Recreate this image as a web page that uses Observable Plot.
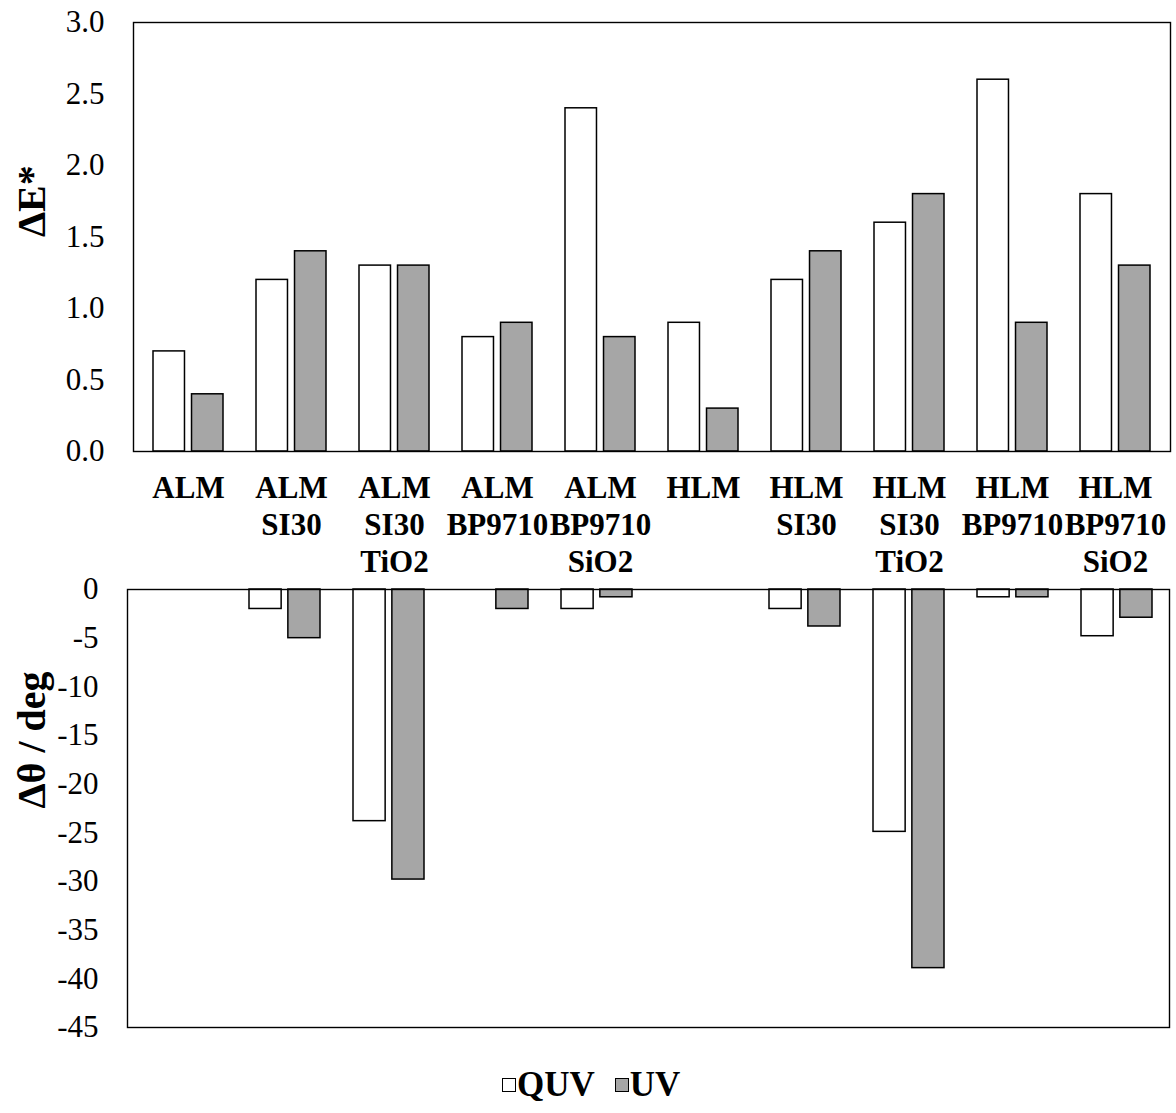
<!DOCTYPE html>
<html>
<head>
<meta charset="utf-8">
<script src="https://cdn.jsdelivr.net/npm/d3@7"></script>
<script src="https://cdn.jsdelivr.net/npm/@observablehq/plot@0.6"></script>
<style>
  html, body { margin: 0; padding: 0; background: #fff; }
  body { width: 1176px; font-family: "Liberation Serif", "Times New Roman", serif; }
  svg { display: block; }
  svg text, svg g[aria-label] { font-family: "Liberation Serif", "Times New Roman", serif !important; }
  #legend { display: flex; align-items: center; justify-content: flex-start; padding-left: 502px; padding-top: 28px; height: 56px; }
  .item { display: flex; align-items: center; font-weight: bold; font-size: 35px; line-height: 40px; color: #000; margin-right: 20px; }
  .sw { width: 12px; height: 12px; border: 1.5px solid #000; margin-right: 1px; }
</style>
</head>
<body>
<div id="top"></div>
<div id="bottom"></div>
<div id="legend"></div>
<script>
const categories = ["ALM", "ALM\nSI30", "ALM\nSI30\nTiO2", "ALM\nBP9710", "ALM\nBP9710\nSiO2",
                    "HLM", "HLM\nSI30", "HLM\nSI30\nTiO2", "HLM\nBP9710", "HLM\nBP9710\nSiO2"];
const series = ["QUV", "UV"];
const seriesColors = ["#ffffff", "#a6a6a6"];
const quvDeltaE = [0.7, 1.2, 1.3, 0.8, 2.4, 0.9, 1.2, 1.6, 2.6, 1.8];
const uvDeltaE  = [0.4, 1.4, 1.3, 0.9, 0.8, 0.3, 1.4, 1.8, 0.9, 1.3];
const quvDeltaTheta = [0, -2, -23.8, 0, -2, 0, -2, -24.9, -0.8, -4.8];
const uvDeltaTheta  = [0, -5, -29.8, -2, -0.8, 0, -3.8, -38.9, -0.8, -2.9];
const topTicks = [0, 0.5, 1.0, 1.5, 2.0, 2.5, 3.0];
const bottomTicks = [0, -5, -10, -15, -20, -25, -30, -35, -40, -45];
const topLabel = "ΔE*";
const bottomLabel = "Δθ / deg";

const font = "'Liberation Serif', 'Times New Roman', serif";

function tidy(a, b) {
  const rows = [];
  categories.forEach((c, i) => {
    rows.push({cat: c, s: series[0], v: a[i]});
    rows.push({cat: c, s: series[1], v: b[i]});
  });
  return rows.filter(d => d.v !== 0);
}

function panel({data, height, marginTop, marginBottom, marginLeft, marginRight, yDomain, ticks, fmt, label, showX}) {
  const plotW = 1176 - marginLeft - marginRight;
  const step = plotW / (categories.length - 0.32 + 2 * 0.16);
  const band = step * 0.68;
  const barW = 32;
  const inset = band - barW;
  const marks = [
    Plot.barY(data.filter(d => d.s === series[0]), {x: "cat", y: "v", fill: "s", stroke: "#000", strokeWidth: 1.5, insetRight: inset}),
    Plot.barY(data.filter(d => d.s === series[1]), {x: "cat", y: "v", fill: "s", stroke: "#000", strokeWidth: 1.5, insetLeft: inset}),
    Plot.frame({stroke: "#000", strokeWidth: 1.4}),
    Plot.axisY(ticks, {tickSize: 0, tickPadding: 29, tickFormat: fmt, fontSize: 31, fontFamily: font, label: null, fill: "#000"}),
    Plot.text([label], {text: d => d, frameAnchor: "left", rotate: -90, dx: -(marginLeft - 32), fontSize: 40, fontWeight: "bold", fontFamily: font, fill: "#000"})
  ];
  if (showX) {
    marks.push(Plot.axisX({tickSize: 0, tickPadding: 21, fontSize: 31, fontWeight: "bold", fontFamily: font, lineHeight: 1.18, label: null, fill: "#000"}));
  }
  return Plot.plot({
    width: 1176, height, marginTop, marginBottom, marginLeft, marginRight,
    style: {fontFamily: font, color: "#000", background: "#fff", overflow: "visible"},
    x: {type: "band", domain: categories, paddingInner: 0.32, paddingOuter: 0.16, axis: null},
    y: {domain: yDomain, axis: null},
    color: {domain: series, range: seriesColors},
    marks
  });
}

document.getElementById("top").append(panel({
  data: tidy(quvDeltaE, uvDeltaE), height: 572, marginTop: 22, marginBottom: 121,
  marginLeft: 133, marginRight: 6, yDomain: [0, 3], ticks: topTicks, fmt: d3.format(".1f"),
  label: topLabel, showX: true
}));
document.getElementById("bottom").append(panel({
  data: tidy(quvDeltaTheta, uvDeltaTheta), height: 457, marginTop: 17, marginBottom: 2,
  marginLeft: 127, marginRight: 7, yDomain: [-45, 0], ticks: bottomTicks, fmt: d => String(d),
  label: bottomLabel, showX: false
}));

const legend = document.getElementById("legend");
series.forEach((s, i) => {
  const item = document.createElement("div");
  item.className = "item";
  const sw = document.createElement("span");
  sw.className = "sw";
  sw.style.background = seriesColors[i];
  item.append(sw, document.createTextNode(s));
  legend.append(item);
});
</script>
</body>
</html>
